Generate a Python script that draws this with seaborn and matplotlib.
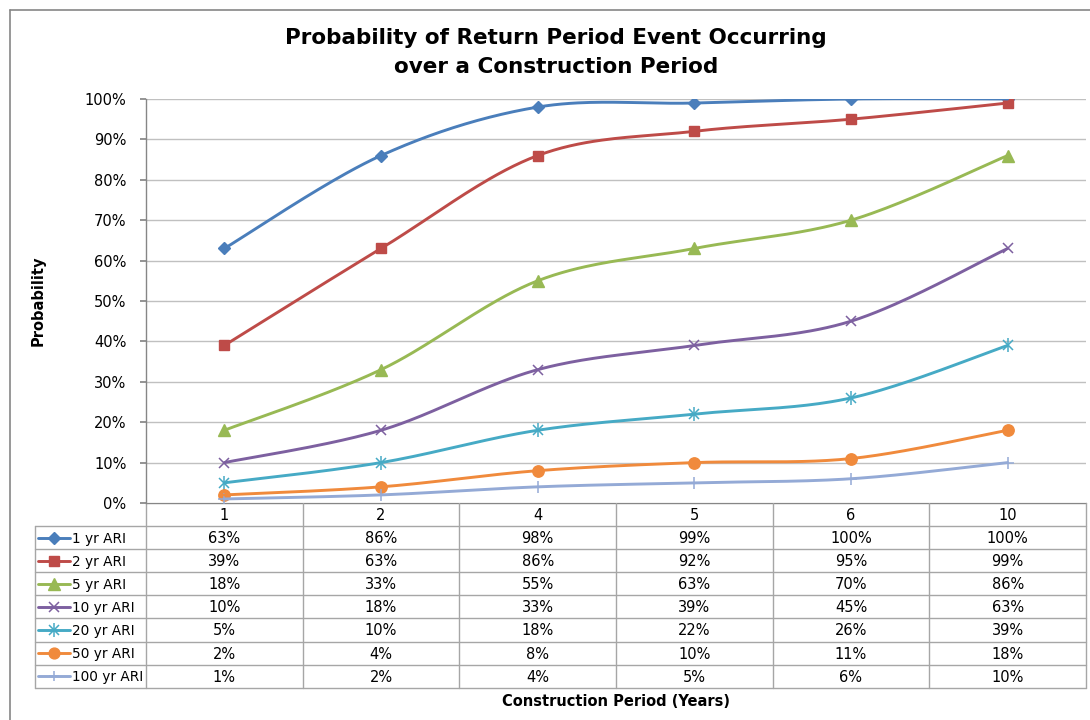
import numpy as np
import pandas as pd
import matplotlib
matplotlib.use("Agg")
import matplotlib.pyplot as plt
import seaborn as sns

# ---- data -------------------------------------------------------------
periods = ["1", "2", "4", "5", "6", "10"]
series_names = ["1 yr ARI", "2 yr ARI", "5 yr ARI", "10 yr ARI",
                "20 yr ARI", "50 yr ARI", "100 yr ARI"]
ari_1 = [63, 86, 98, 99, 100, 100]
ari_2 = [39, 63, 86, 92, 95, 99]
ari_5 = [18, 33, 55, 63, 70, 86]
ari_10 = [10, 18, 33, 39, 45, 63]
ari_20 = [5, 10, 18, 22, 26, 39]
ari_50 = [2, 4, 8, 10, 11, 18]
ari_100 = [1, 2, 4, 5, 6, 10]
all_series = [ari_1, ari_2, ari_5, ari_10, ari_20, ari_50, ari_100]

colors = ["#4A7EBB", "#BE4B48", "#98B954", "#7D60A0",
          "#46AAC5", "#F08A3C", "#94AAD6"]
markers = ["D", "s", "^", "x", "*", "o", "+"]

sns.set_theme(style="white")
plt.rcParams["font.family"] = ["DejaVu Sans"]
plt.rcParams["text.color"] = "black"
plt.rcParams["ytick.labelcolor"] = "black"

W, H = 1090, 720
fig = plt.figure(figsize=(W / 100, H / 100), dpi=100)

# plot area in pixel coordinates
PX_L, PX_R, PX_T, PX_B = 146, 1086, 99, 503
ax = fig.add_axes([PX_L / W, 1 - PX_B / H, (PX_R - PX_L) / W, (PX_B - PX_T) / H])

# overlay axes in pixel space for frame + data table
ov = fig.add_axes([0, 0, 1, 1], zorder=-1)
ov.set_xlim(0, W)
ov.set_ylim(H, 0)
ov.axis("off")


def smooth_curve(x, y, n=40):
    """Cubic Bezier smoothing through every point (spreadsheet-style)."""
    pts = np.column_stack([x, y]).astype(float)
    ext = np.vstack([pts[0], pts, pts[-1]])
    segs = []
    t = np.linspace(0, 1, n)[:, None]
    for i in range(len(pts) - 1):
        p0, p1, p2, p3 = ext[i], ext[i + 1], ext[i + 2], ext[i + 3]
        c1 = p1 + (p2 - p0) / 6
        c2 = p2 - (p3 - p1) / 6
        seg = ((1 - t) ** 3) * p1 + 3 * ((1 - t) ** 2) * t * c1 \
            + 3 * (1 - t) * (t ** 2) * c2 + (t ** 3) * p2
        segs.append(seg if i == 0 else seg[1:])
    return np.vstack(segs)


def draw_marker(axis, x, y, m, c, scale=1.0):
    if m == "D":
        axis.plot(x, y, ls="none", marker="D", ms=6.2 * scale, color=c, mec=c)
    elif m == "s":
        axis.plot(x, y, ls="none", marker="s", ms=7.2 * scale, color=c, mec=c)
    elif m == "^":
        axis.plot(x, y, ls="none", marker="^", ms=8.5 * scale, color=c, mec=c)
    elif m == "x":
        axis.plot(x, y, ls="none", marker="x", ms=7.5 * scale, color=c, mew=1.1)
    elif m == "*":
        axis.plot(x, y, ls="none", marker="x", ms=7.5 * scale, color=c, mew=1.1)
        axis.plot(x, y, ls="none", marker="|", ms=10 * scale, color=c, mew=1.1)
    elif m == "o":
        axis.plot(x, y, ls="none", marker="o", ms=8.2 * scale, color=c, mec=c)
    elif m == "+":
        axis.plot(x, y, ls="none", marker="+", ms=8 * scale, color=c, mew=1.1)


xpos = np.arange(len(periods))
for name, vals, c, m in zip(series_names, all_series, colors, markers):
    yv = np.array(vals) / 100.0
    curve = smooth_curve(xpos, yv)
    df = pd.DataFrame({"x": curve[:, 0], "y": curve[:, 1]})
    sns.lineplot(data=df, x="x", y="y", ax=ax, color=c, lw=2.1,
                 sort=False, estimator=None, zorder=3)
    draw_marker(ax, xpos, yv, m, c)

ax.set_xlim(-0.5, len(periods) - 0.5)
ax.set_ylim(0, 1.0)
ax.set_yticks(np.arange(0, 1.01, 0.1))
ax.set_yticklabels([f"{int(round(v * 100))}%" for v in np.arange(0, 1.01, 0.1)],
                   fontsize=10.5, color="black")
ax.set_xticks([])
ax.set_xlabel("")
ax.set_ylabel("")
ax.grid(axis="y", color="#C0C0C0", lw=1)
ax.set_axisbelow(True)
for s in ["top", "right", "bottom"]:
    ax.spines[s].set_visible(False)
ax.spines["left"].set_color("#868686")
ax.spines["left"].set_linewidth(1)
ax.tick_params(axis="y", left=True, length=4, color="#868686", pad=10,
               labelcolor="black")

# ---- chart frame -------------------------------------------------------
ov.plot([10, 10], [10, H], color="#868686", lw=1.2)
ov.plot([10, W], [10, 10], color="#868686", lw=1.2)

# ---- data table --------------------------------------------------------
grid_c = "#A6A6A6"
ncol = len(periods)
colw = (PX_R - PX_L) / ncol
col_edges = [PX_L + i * colw for i in range(ncol + 1)]
head_top, head_bot = PX_B, 526
row_h = 23.1
row_edges = [head_bot + i * row_h for i in range(len(series_names) + 1)]
LEG_L = 35

# header row (category labels)
ov.plot([PX_L, PX_R], [head_top, head_top], color="#868686", lw=1)
for xe in col_edges:
    ov.plot([xe, xe], [head_top, row_edges[-1]], color=grid_c, lw=1)
for i, p in enumerate(periods):
    ov.text((col_edges[i] + col_edges[i + 1]) / 2, (head_top + head_bot) / 2 + 1,
            p, ha="center", va="center", fontsize=10.5)

# body rows
for ye in row_edges:
    ov.plot([LEG_L, PX_R], [ye, ye], color=grid_c, lw=1)
ov.plot([LEG_L, LEG_L], [row_edges[0], row_edges[-1]], color=grid_c, lw=1)

for r, (name, vals, c, m) in enumerate(zip(series_names, all_series, colors, markers)):
    yc = (row_edges[r] + row_edges[r + 1]) / 2
    ov.plot([38, 70], [yc, yc], color=c, lw=2.1)
    draw_marker(ov, [54], [yc], m, c, scale=0.95)
    ov.text(72, yc + 1, name, ha="left", va="center", fontsize=9.8)
    for i, v in enumerate(vals):
        ov.text((col_edges[i] + col_edges[i + 1]) / 2, yc + 1, f"{v}%",
                ha="center", va="center", fontsize=10.5)

# ---- titles ------------------------------------------------------------
ov.text(556, 38, "Probability of Return Period Event Occurring",
        ha="center", va="center", fontsize=15.5, fontweight="bold")
ov.text(556, 67, "over a Construction Period",
        ha="center", va="center", fontsize=15.5, fontweight="bold")
ov.text(38, 301, "Probability", ha="center", va="center", rotation=90,
        fontsize=10.5, fontweight="bold")
ov.text((PX_L + PX_R) / 2, 701, "Construction Period (Years)", ha="center",
        va="center", fontsize=10.5, fontweight="bold")

fig.savefig("out.png", dpi=100)
